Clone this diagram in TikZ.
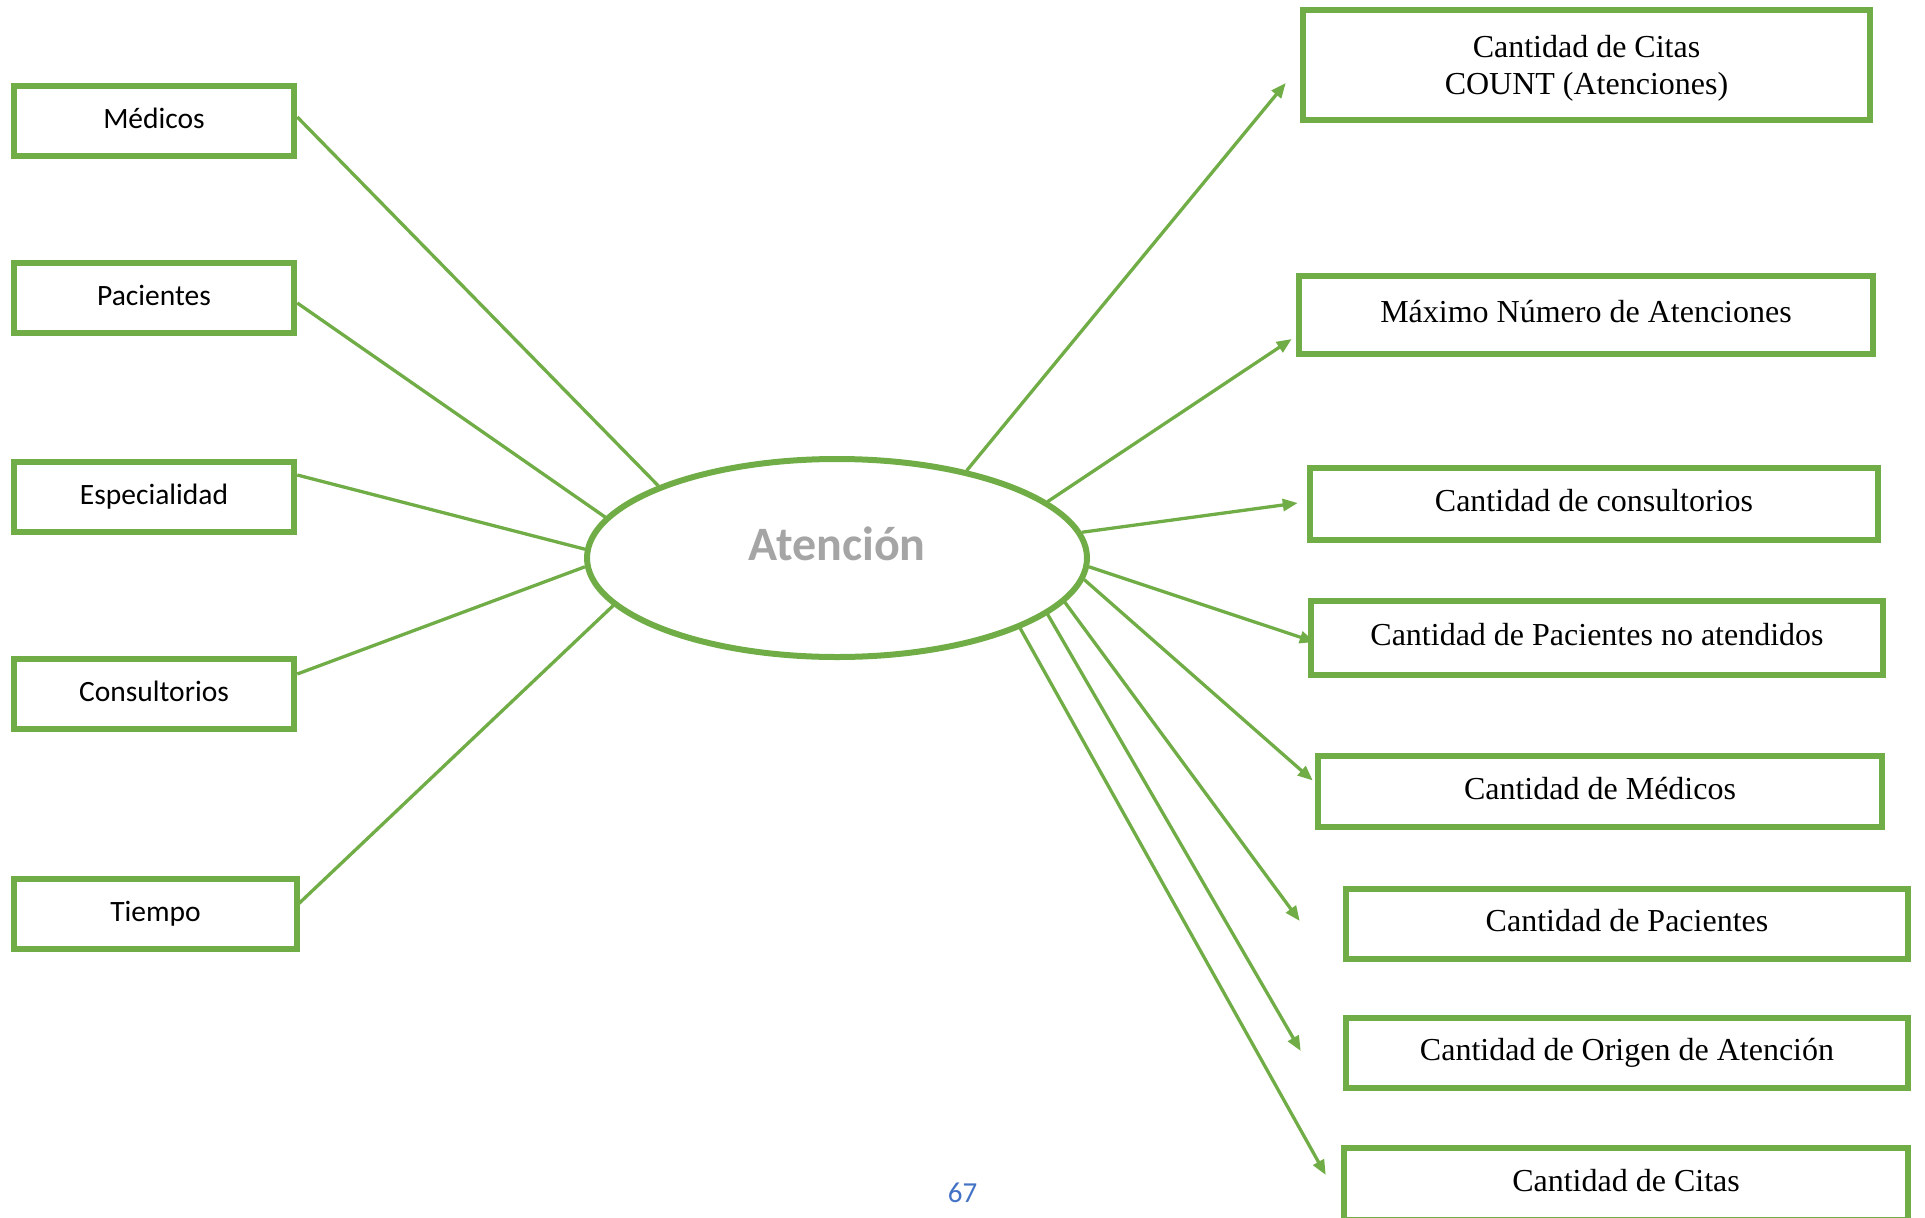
\documentclass[tikz,border=0pt]{standalone}
\usepackage{fontspec}
\setmainfont{Liberation Serif}
\newfontfamily\calibri{Carlito}
\usetikzlibrary{shapes.geometric,arrows.meta,calc}
\definecolor{leaf}{HTML}{70AD47}
\definecolor{ash}{HTML}{A5A5A5}
\definecolor{pageblue}{HTML}{4472C4}

\begin{document}
\begin{tikzpicture}[x=1pt,y=-1pt,
  dimbox/.style={draw=leaf, line width=6.5pt, minimum width=280pt, minimum height=70pt,
    inner sep=0pt, font=\calibri\fontsize{29.5}{35}\selectfont, text height=21pt, text depth=6.2pt},
  metbox/.style={draw=leaf, line width=6.5pt, inner sep=0pt,
    font=\fontsize{32}{37}\selectfont, text height=22pt, text depth=7pt},
  twoline/.style={draw=leaf, line width=6.5pt, inner sep=0pt,
    font=\fontsize{32}{37}\selectfont, align=center, text depth=-5pt},
  hub/.style={ellipse, draw=leaf, line width=6pt, minimum width=500pt,
    minimum height=198pt, inner sep=0pt},
  link/.style={draw=leaf, line width=3.3pt},
  flow/.style={link, -{Triangle[length=15pt,width=12pt]}}
]
\useasboundingbox (0,0) rectangle (1925,1218);
\clip (0,0) rectangle (1925,1218);

% dimensions
\node[dimbox] (med) at (154,121) {Médicos};
\node[dimbox] (pac) at (154,298) {Pacientes};
\node[dimbox] (esp) at (154,497) {Especialidad};
\node[dimbox] (con) at (154,694) {Consultorios};
\node[dimbox, minimum width=283pt] (tie) at (155.5,914) {Tiempo};

% fact
\node[hub] (at) at (837,558) {};
\node[font=\calibri\bfseries\fontsize{48}{56}\selectfont, text=ash, anchor=base]
  (attxt) at ($(at.center)+(0,2)$) {Atención};

% measures
\node[twoline, minimum width=567pt, minimum height=110pt] (m1) at (1586.5,65)
  {Cantidad de Citas\\COUNT (Atenciones)};
\node[metbox, minimum width=574pt, minimum height=78pt] (m2) at (1586,315) {Máximo Número de Atenciones};
\node[metbox, minimum width=568pt, minimum height=72pt] (m3) at (1594,504) {Cantidad de consultorios};
\node[metbox, minimum width=572pt, minimum height=74pt] (m4) at (1597,638) {Cantidad de Pacientes no atendidos};
\node[metbox, minimum width=564pt, minimum height=71pt] (m5) at (1600,791.5) {Cantidad de Médicos};
\node[metbox, minimum width=562pt, minimum height=70pt] (m6) at (1627,924) {Cantidad de Pacientes};
\node[metbox, minimum width=562pt, minimum height=70pt] (m7) at (1627,1053) {Cantidad de Origen de Atención};
\node[metbox, minimum width=564pt, minimum height=72pt] (m8) at (1626,1184) {Cantidad de Citas};

% dimension links
\draw[link] ($(med.east)+(0,-4)$) -- (at.158);
\draw[link] ($(pac.east)+(0,5)$) -- (at.170);
\draw[link] ($(esp.east)+(0,-22)$) -- (at.178);
\draw[link] ($(con.east)+(0,-20)$) -- (at.182);
\draw[link] ($(tie.east)+(-4,-8)$) -- (at.192);

% measure arrows
\draw[flow] (at.34) -- ($(m1.west)+(-14,18)$);
\draw[flow] (at.15) -- ($(m2.west)+(-4,24)$);
\draw[flow] (at.6) -- ($(m3.west)+(-9,-1)$);
\draw[flow] (at.358) -- ($(m4.west)+(7,4)$);
\draw[flow] (at.355) -- ($(m5.west)+(-2,-11)$);
\draw[flow] (at.349) -- ($(m6.west)+(-43,-3)$);
\draw[flow] (at.345) -- ($(m7.west)+(-42,-2)$);
\draw[flow] (at.339) -- ($(m8.west)+(-15,-9)$);

% page number
\node[font=\calibri\fontsize{29}{34}\selectfont, text=pageblue] (pg) at (962.5,1193) {67};
\end{tikzpicture}
\end{document}
